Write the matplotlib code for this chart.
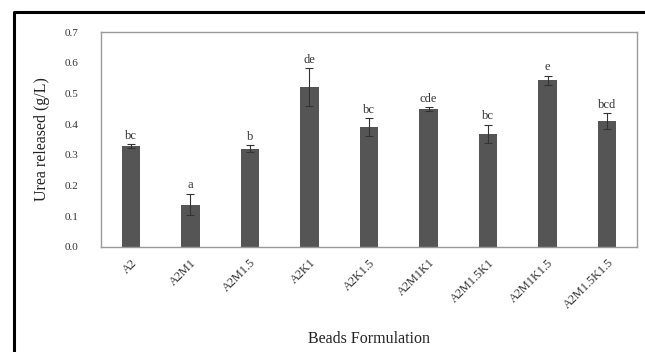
import matplotlib
matplotlib.use('Agg')
import matplotlib.pyplot as plt
from matplotlib.lines import Line2D
import numpy as np

plt.rcParams['font.family'] = ['Liberation Serif', 'DejaVu Serif']

# Urea release per bead formulation
formulations = ['A2', 'A2M1', 'A2M1.5', 'A2K1', 'A2K1.5', 'A2M1K1',
                'A2M1.5K1', 'A2M1K1.5', 'A2M1.5K1.5']
urea_released = [0.329, 0.138, 0.320, 0.520, 0.390, 0.449, 0.368, 0.543, 0.410]
std_err = [0.006, 0.035, 0.012, 0.062, 0.030, 0.006, 0.030, 0.015, 0.025]
groups = ['bc', 'a', 'b', 'de', 'bc', 'cde', 'bc', 'e', 'bcd']

fig = plt.figure(figsize=(6.45, 3.52), dpi=100)
ax = fig.add_axes([0.1566, 0.2983, 0.8310, 0.6107])

x = np.arange(len(formulations))
ax.bar(x, urea_released, width=0.31, color='#555555', zorder=2)
ax.errorbar(x, urea_released, yerr=std_err, fmt='none', ecolor='#333333',
            elinewidth=0.8, capsize=3, capthick=0.8, zorder=3)

# significance letters over each bar
for xi, v, e, g in zip(x, urea_released, std_err, groups):
    ax.text(xi, v + e + 0.008, g, ha='center', va='bottom',
            fontsize=9, color='#333333')

ax.set_xlim(-0.5, len(formulations) - 0.5)
ax.set_ylim(0, 0.7)
ax.set_yticks(np.arange(0, 0.71, 0.1))
ax.set_yticklabels([f'{t:.1f}' for t in np.arange(0, 0.71, 0.1)])
ax.set_xticks(x)
ax.set_xticklabels(formulations, rotation=45, ha='right', rotation_mode='anchor')
ax.tick_params(axis='both', labelsize=8, colors='#333333', length=0)
ax.tick_params(axis='x', labelsize=8.8, pad=7)
ax.tick_params(axis='y', pad=16)

for sp in ax.spines.values():
    sp.set_color('#999999')
    sp.set_linewidth(1.0)

ax.set_ylabel('Urea released (g/L)', fontsize=11.5, color='#222222', labelpad=11)
ax.set_xlabel('Beads Formulation', fontsize=11.5, color='#222222', labelpad=14)

# outer frame on top and left
fx = 13.5 / 645
fy = 1 - 12 / 352
fig.add_artist(Line2D([fx, fx, 1.0], [0.0, fy, fy], transform=fig.transFigure,
                      color='black', linewidth=2.2))

fig.savefig('out.png', dpi=100)
